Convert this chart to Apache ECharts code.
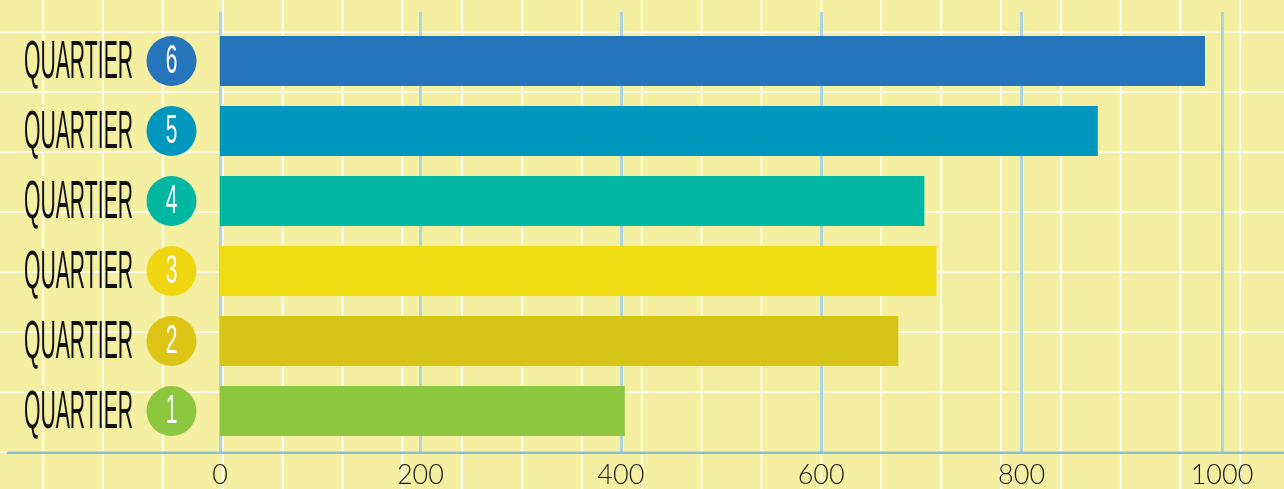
<!DOCTYPE html>
<html>
<head>
<meta charset="utf-8">
<title>Quartiers</title>
<script src="https://cdn.jsdelivr.net/npm/echarts@6/dist/echarts.min.js"></script>
<style>
    html, body { margin: 0; padding: 0; background: #F5EFA2; }
    #chart { width: 1284px; height: 489px; }
</style>
</head>
<body>
<div id="chart"></div>
<script>
var categories = ['Quartier 1', 'Quartier 2', 'Quartier 3', 'Quartier 4', 'Quartier 5', 'Quartier 6'];
var badgeNumbers = ['1', '2', '3', '4', '5', '6'];
var values = [404, 677, 715, 703, 876, 983];
var barColors = ['#8DC63F', '#D6C516', '#F0DC12', '#00B8A1', '#0097BF', '#2574BC'];
var badgeColors = ['#8DC63F', '#DCC514', '#EFD60F', '#00B8A1', '#0097BF', '#2574BC'];
var xTicks = [0, 200, 400, 600, 800, 1000];

(function () {
    'use strict';

    var myChart = echarts.init(document.getElementById('chart'));

    // graph paper behind the chart
    var paper = [];
    var k;
    for (k = 0; k <= 21; k++) {
        var gx = 43.3 + 59.85 * k;
        paper.push({
            type: 'line', z: -10, silent: true,
            shape: { x1: gx, y1: 0, x2: gx, y2: 489 },
            style: { stroke: '#ffffff', lineWidth: 1.6 }
        });
    }
    for (k = 0; k <= 7; k++) {
        var gy = 32 + 60 * k;
        paper.push({
            type: 'line', z: -10, silent: true,
            shape: { x1: 0, y1: gy, x2: 1284, y2: gy },
            style: { stroke: '#ffffff', lineWidth: 1.6 }
        });
    }
    // the long base line under the bars
    paper.push({
        type: 'line', z: 10, silent: true,
        shape: { x1: 7, y1: 452.7, x2: 1284, y2: 452.7 },
        style: { stroke: '#86C1D6', lineWidth: 2.6 }
    });

    var barData = values.map(function (v, i) {
        return { value: v, itemStyle: { color: barColors[i] } };
    });

    var labelData = categories.map(function (c, i) {
        return [0, i];
    });

    var option = {
        backgroundColor: '#F5EFA2',
        animation: false,
        graphic: paper,
        grid: [
            { left: 220, right: 62, top: 26, height: 420 },
            { left: 220, right: 62, top: 12, height: 441 }
        ],
        xAxis: [
            {
                gridIndex: 0, type: 'value',
                min: xTicks[0], max: xTicks[xTicks.length - 1], interval: 200,
                axisLine: { show: false }, axisTick: { show: false },
                axisLabel: { show: false }, splitLine: { show: false }
            },
            {
                gridIndex: 1, type: 'value', position: 'bottom',
                min: xTicks[0], max: xTicks[xTicks.length - 1], interval: 200,
                axisLine: { show: false }, axisTick: { show: false },
                axisLabel: {
                    margin: 10, fontFamily: 'Lato', fontWeight: 300, fontSize: 27,
                    color: '#1a1a1a', verticalAlign: 'top',
                    formatter: function (v) { return String(v); }
                },
                splitLine: { lineStyle: { color: '#A9D6E0', width: 3 } }
            }
        ],
        yAxis: [
            {
                gridIndex: 0, type: 'category', data: categories,
                axisLine: { show: false }, axisTick: { show: false },
                axisLabel: { show: false }, splitLine: { show: false }
            },
            {
                gridIndex: 1, type: 'value', show: false
            }
        ],
        series: [
            {
                type: 'bar',
                xAxisIndex: 0, yAxisIndex: 0,
                barWidth: 50,
                data: barData
            },
            {
                type: 'custom',
                xAxisIndex: 0, yAxisIndex: 0,
                clip: false,
                data: labelData,
                encode: { x: 0, y: 1 },
                renderItem: function (params, api) {
                    var idx = api.value(1);
                    var pt = api.coord([0, idx]);
                    var x0 = pt[0], y = pt[1];
                    return {
                        type: 'group',
                        children: [
                            {
                                type: 'text',
                                x: x0 - 141.5, y: y + 2,
                                scaleX: 0.53, scaleY: 1.35,
                                style: {
                                    text: categories[idx].split(' ')[0].toUpperCase(),
                                    font: 'normal 40px "Liberation Sans"',
                                    fill: '#111111',
                                    align: 'center', verticalAlign: 'middle'
                                }
                            },
                            {
                                type: 'circle',
                                shape: { cx: x0 - 48.5, cy: y, r: 25 },
                                style: { fill: badgeColors[idx] }
                            },
                            {
                                type: 'text',
                                x: x0 - 48.5, y: y + 1,
                                scaleX: 0.7, scaleY: 1.35,
                                style: {
                                    text: badgeNumbers[idx],
                                    font: 'normal 30px "Liberation Sans"',
                                    fill: '#ffffff',
                                    align: 'center', verticalAlign: 'middle'
                                }
                            }
                        ]
                    };
                }
            }
        ]
    };

    myChart.setOption(option);
})();
</script>
</body>
</html>
